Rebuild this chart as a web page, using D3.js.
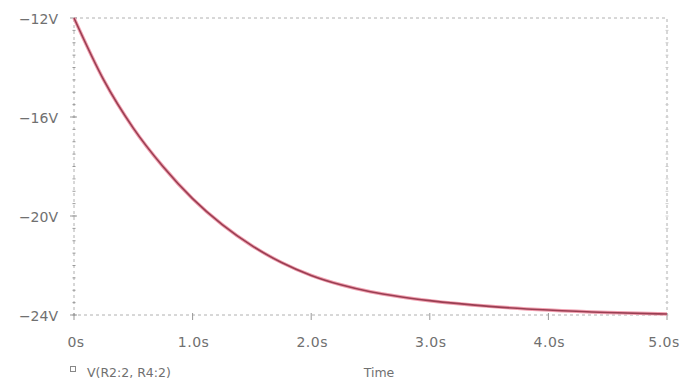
<!DOCTYPE html>
<html><head><meta charset="utf-8">
<script src="https://cdn.jsdelivr.net/npm/d3@7"></script>
<style>body{margin:0;background:#fff;} text{font-family:"DejaVu Sans",sans-serif;}</style>
</head><body><svg id="c" width="682" height="380"></svg>
<script>
const times = [0, 0.25, 0.5, 0.75, 1.0, 1.25, 1.5, 1.75, 2.0, 2.25, 2.5, 2.75, 3.0, 3.5, 4.0, 4.5, 5.0];
const volts = [-12.0, -14.5, -16.45, -18.0, -19.3, -20.35, -21.2, -21.88, -22.4, -22.78, -23.06, -23.26, -23.42, -23.65, -23.8, -23.9, -23.96];
const xTicks = [0, 1, 2, 3, 4, 5];
const xTickLabels = ["0s", "1.0s", "2.0s", "3.0s", "4.0s", "5.0s"];
const yTicks = [-12, -16, -20, -24];
const yTickLabels = ["\u221212V", "\u221216V", "\u221220V", "\u221224V"];
const seriesName = "V(R2:2, R4:2)";
const xTitle = "Time";

const svg = d3.select("#c");
const L = 74, R = 667, T = 18, B = 315;
const x = d3.scaleLinear().domain([0, 5]).range([L, R]);
const y = d3.scaleLinear().domain([-24, -12]).range([B, T]);
const grey = "#b0b0b0";
const txt = "#707070";

// frame
svg.append("rect").attr("x", L).attr("y", T).attr("width", R - L).attr("height", B - T)
  .attr("fill", "none").attr("stroke", grey).attr("stroke-width", 1).attr("stroke-dasharray", "3,3");

// minor ticks
const minor = d3.range(-24, -12.01, 0.5);
svg.selectAll(".mt").data(minor).join("line")
  .attr("x1", L - 1.5).attr("x2", L + 1.5)
  .attr("y1", d => y(d)).attr("y2", d => y(d)).attr("stroke", "#999");
svg.selectAll(".mtr").data(minor).join("line")
  .attr("x1", R - 1.5).attr("x2", R + 1.5)
  .attr("y1", d => y(d)).attr("y2", d => y(d)).attr("stroke", "#ccc");
svg.selectAll(".yt").data(yTicks).join("line")
  .attr("x1", L - 4).attr("x2", L + 3).attr("y1", d => y(d)).attr("y2", d => y(d)).attr("stroke", "#999");
svg.selectAll(".xt").data(xTicks).join("line")
  .attr("x1", d => x(d)).attr("x2", d => x(d)).attr("y1", B - 2).attr("y2", B + 5).attr("stroke", "#999");

// labels
svg.selectAll(".yl").data(yTicks).join("text")
  .attr("x", L - 16).attr("y", d => y(d) + 6).attr("text-anchor", "end")
  .attr("font-size", 14).attr("fill", txt).text((d, i) => yTickLabels[i]);
svg.selectAll(".xl").data(xTicks).join("text")
  .attr("x", (d, i) => x(d) + (i === 0 ? 2 : (i === 5 ? -3 : 1))).attr("y", 347).attr("text-anchor", "middle")
  .attr("font-size", 14).attr("letter-spacing", 0.5).attr("fill", txt).text((d, i) => xTickLabels[i]);

svg.append("text").attr("x", 379).attr("y", 377).attr("text-anchor", "middle")
  .attr("font-size", 12.5).attr("fill", txt).text(xTitle);
svg.append("rect").attr("x", 70.5).attr("y", 366.5).attr("width", 5).attr("height", 5)
  .attr("fill", "none").attr("stroke", "#888");
svg.append("text").attr("x", 87).attr("y", 377).attr("font-size", 12.5).attr("fill", txt).text(seriesName);

// curve
const data = times.map((t, i) => [t, volts[i]]);
const line = d3.line().x(d => x(d[0])).y(d => y(d[1])).curve(d3.curveMonotoneX);
svg.append("path").datum(data).attr("d", line).attr("fill", "none")
  .attr("stroke", "#f0a0b0").attr("stroke-width", 3.5);
svg.append("path").datum(data).attr("d", line).attr("fill", "none")
  .attr("stroke", "#9a3e52").attr("stroke-width", 1.6);
</script></body></html>
